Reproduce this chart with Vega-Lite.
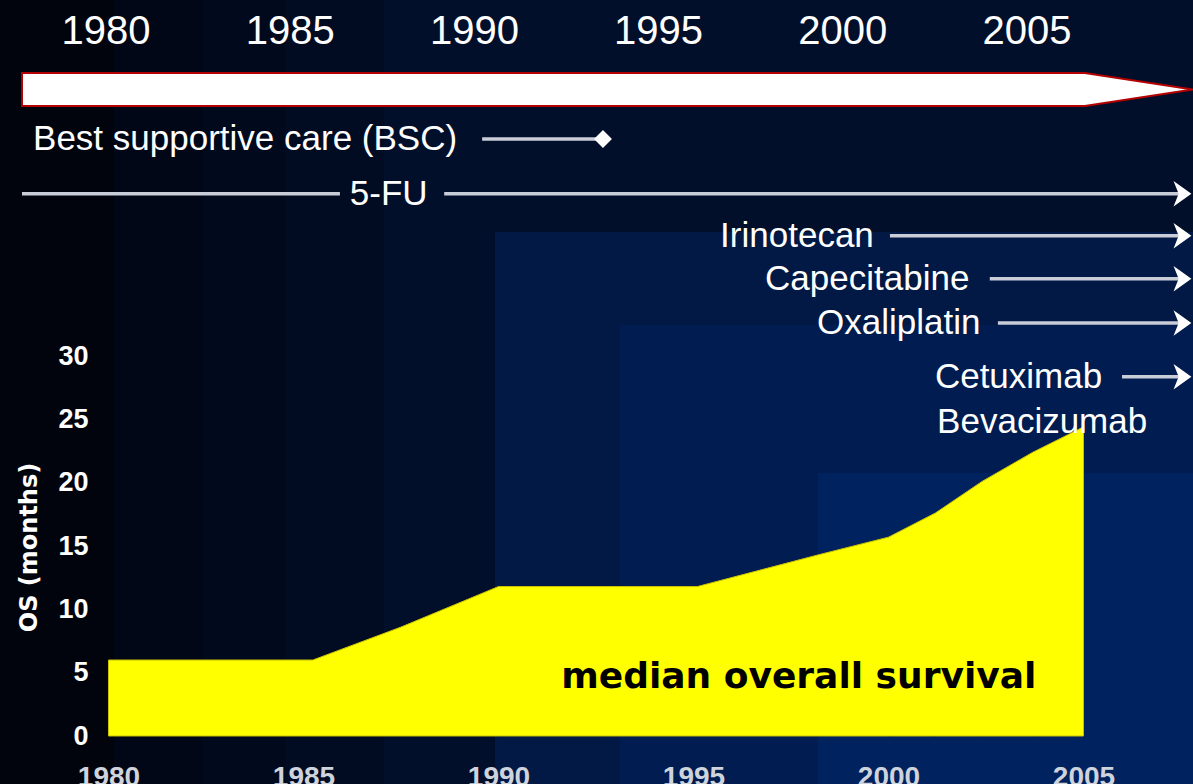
{
  "$schema": "https://vega.github.io/schema/vega-lite/v6.json",
  "width": 1193,
  "height": 784,
  "autosize": {"type": "none"},
  "padding": 0,
  "background": "#01040d",
  "config": {
    "view": {"stroke": null},
    "font": "Liberation Sans",
    "axis": {"grid": false, "domain": false, "ticks": false, "zindex": 2}
  },
  "datasets": {
    "bg": [
      {"x0": 1977.218, "x1": 2007.808, "y0": -3.789, "y1": 58.105, "shade": 1},
      {"x0": 1980.14, "x1": 2007.808, "y0": -3.789, "y1": 58.105, "shade": 2},
      {"x0": 1982.40, "x1": 2007.808, "y0": -3.789, "y1": 58.105, "shade": 3},
      {"x0": 1984.53, "x1": 2007.808, "y0": -3.789, "y1": 58.105, "shade": 4},
      {"x0": 1987.06, "x1": 2007.808, "y0": -3.789, "y1": 58.105, "shade": 5},
      {"x0": 1989.91, "x1": 2007.808, "y0": -3.789, "y1": 39.79, "shade": 6},
      {"x0": 1993.12, "x1": 2007.808, "y0": -3.789, "y1": 32.45, "shade": 7},
      {"x0": 1998.19, "x1": 2007.808, "y0": -3.789, "y1": 20.76, "shade": 8}
    ],
    "survival": [
      {"year": 1980, "os": 6.0},
      {"year": 1985.24, "os": 6.0},
      {"year": 1987.5, "os": 8.6},
      {"year": 1990, "os": 11.8},
      {"year": 1995.1, "os": 11.8},
      {"year": 1998.2, "os": 14.3},
      {"year": 2000, "os": 15.7},
      {"year": 2001.2, "os": 17.6},
      {"year": 2002.4, "os": 20.1},
      {"year": 2003.7, "os": 22.4},
      {"year": 2005, "os": 24.4}
    ],
    "note": [
      {"year": 1997.7, "os": 3.8, "label": "median overall survival"}
    ],
    "arrow": [
      {"t": 1977.72, "top": 0.953, "bot": 1.721},
      {"t": 2006.57, "top": 0.953, "bot": 1.721},
      {"t": 2009.50, "top": 1.337, "bot": 1.337}
    ],
    "years": [
      {"year": 1980}, {"year": 1985}, {"year": 1990},
      {"year": 1995}, {"year": 2000}, {"year": 2005}
    ],
    "lines": [
      {"drug": "BSC", "lane": 2.49, "from": 1990.21, "to": 1993.49, "head": "diamond"},
      {"drug": "5-FU", "lane": 3.76, "from": 1977.72, "to": 1986.35, "head": "none"},
      {"drug": "5-FU", "lane": 3.76, "from": 1989.18, "to": 2009.22, "head": "arrow"},
      {"drug": "Irinotecan", "lane": 4.74, "from": 2001.28, "to": 2009.22, "head": "arrow"},
      {"drug": "Capecitabine", "lane": 5.74, "from": 2003.99, "to": 2009.22, "head": "arrow"},
      {"drug": "Oxaliplatin", "lane": 6.77, "from": 2004.21, "to": 2009.22, "head": "arrow"},
      {"drug": "Cetuximab", "lane": 8.02, "from": 2007.58, "to": 2009.22, "head": "arrow"}
    ],
    "labels": [
      {"text": "Best supportive care (BSC)", "lane": 2.49, "at": 1978.02},
      {"text": "5-FU", "lane": 3.76, "at": 1986.62},
      {"text": "Irinotecan", "lane": 4.74, "at": 1996.67},
      {"text": "Capecitabine", "lane": 5.74, "at": 1997.89},
      {"text": "Oxaliplatin", "lane": 6.77, "at": 1999.30},
      {"text": "Cetuximab", "lane": 8.02, "at": 2002.50},
      {"text": "Bevacizumab", "lane": 9.07, "at": 2002.56}
    ]
  },
  "layer": [
    {
      "layer": [
        {
          "data": {"name": "bg"},
          "mark": {"type": "rect"},
          "encoding": {
            "x": {"field": "x0", "type": "quantitative", "scale": {"domain": [1977.218, 2007.808], "nice": false, "zero": false}},
            "x2": {"field": "x1"},
            "y": {"field": "y0", "type": "quantitative", "scale": {"domain": [-3.789, 58.105], "nice": false, "zero": false}},
            "y2": {"field": "y1"},
            "color": {
              "field": "shade", "type": "ordinal", "legend": null,
              "scale": {"domain": [1, 2, 3, 4, 5, 6, 7, 8],
                        "range": ["#01040d", "#010716", "#01091c", "#010c23", "#010f2b", "#011944", "#001c50", "#00225e"]}
            }
          }
        },
        {
          "data": {"name": "survival"},
          "mark": {"type": "area", "color": "#ffff00", "stroke": "#c8c000", "strokeWidth": 1},
          "encoding": {
            "x": {
              "field": "year", "type": "quantitative",
              "scale": {"domain": [1977.218, 2007.808], "nice": false, "zero": false},
              "axis": {
                "values": [1980, 1985, 1990, 1995, 2000, 2005], "format": "d", "title": null,
                "orient": "bottom", "offset": -24, "labelPadding": 3,
                "labelFont": "Liberation Sans", "labelFontSize": 28, "labelFontWeight": "bold",
                "labelColor": "#cfd3dc", "labelBaseline": "top", "labelFlush": false, "labelOverlap": false,
                "domain": false, "ticks": false, "grid": false, "zindex": 2
              }
            },
            "y": {
              "field": "os", "type": "quantitative",
              "scale": {"domain": [-3.789, 58.105], "nice": false, "zero": false},
              "axis": {
                "values": [0, 5, 10, 15, 20, 25, 30], "title": "OS (months)",
                "orient": "left", "offset": -92, "labelPadding": 4,
                "labelFont": "Liberation Sans", "labelFontSize": 27, "labelFontWeight": "bold",
                "labelColor": "#ffffff", "labelFlush": false, "labelOverlap": false,
                "titleFont": "DejaVu Sans", "titleFontSize": 24, "titleFontWeight": "bold", "titleColor": "#ffffff",
                "titleAngle": 270, "titleX": -63, "titleY": 547, "titleAlign": "center", "titleBaseline": "middle",
                "domain": false, "ticks": false, "grid": false, "zindex": 2
              }
            },
            "y2": {"datum": 0}
          }
        },
        {
          "data": {"name": "note"},
          "mark": {"type": "text", "font": "DejaVu Sans", "fontWeight": "bold", "fontSize": 36, "color": "#000000", "align": "center", "baseline": "alphabetic"},
          "encoding": {
            "x": {"field": "year", "type": "quantitative", "scale": {"domain": [1977.218, 2007.808], "nice": false, "zero": false}},
            "y": {"field": "os", "type": "quantitative", "scale": {"domain": [-3.789, 58.105], "nice": false, "zero": false}},
            "text": {"field": "label"}
          }
        }
      ]
    },
    {
      "layer": [
        {
          "data": {"name": "arrow"},
          "mark": {"type": "area", "color": "#ffffff", "stroke": "#b40000", "strokeWidth": 2},
          "encoding": {
            "x": {"field": "t", "type": "quantitative", "scale": {"domain": [1977.123, 2009.506], "nice": false, "zero": false}, "axis": null},
            "y": {"field": "top", "type": "quantitative", "scale": {"domain": [-0.744, 17.488], "nice": false, "zero": false, "reverse": true}, "axis": null},
            "y2": {"field": "bot"}
          }
        },
        {
          "data": {"name": "years"},
          "mark": {"type": "text", "fontSize": 40, "color": "#ffffff", "align": "center", "baseline": "middle"},
          "encoding": {
            "x": {"field": "year", "type": "quantitative", "scale": {"domain": [1977.123, 2009.506], "nice": false, "zero": false}, "axis": null},
            "y": {"datum": 0, "type": "quantitative", "scale": {"domain": [-0.744, 17.488], "nice": false, "zero": false, "reverse": true}, "axis": null},
            "text": {"field": "year", "type": "quantitative", "format": "d"}
          }
        },
        {
          "data": {"name": "lines"},
          "mark": {"type": "rule", "color": "#c9cdd8", "strokeWidth": 3.5},
          "encoding": {
            "x": {"field": "from", "type": "quantitative", "scale": {"domain": [1977.123, 2009.506], "nice": false, "zero": false}, "axis": null},
            "x2": {"field": "to"},
            "y": {"field": "lane", "type": "quantitative", "scale": {"domain": [-0.744, 17.488], "nice": false, "zero": false, "reverse": true}, "axis": null}
          }
        },
        {
          "data": {"name": "lines"},
          "transform": [{"filter": "datum.head === 'arrow'"}],
          "mark": {"type": "point", "filled": true, "color": "#ffffff", "opacity": 1, "size": 650, "shape": "M-0.7,-1L0.7,0L-0.7,1L-0.3,0Z"},
          "encoding": {
            "x": {"field": "to", "type": "quantitative", "scale": {"domain": [1977.123, 2009.506], "nice": false, "zero": false}, "axis": null},
            "y": {"field": "lane", "type": "quantitative", "scale": {"domain": [-0.744, 17.488], "nice": false, "zero": false, "reverse": true}, "axis": null}
          }
        },
        {
          "data": {"name": "lines"},
          "transform": [{"filter": "datum.head === 'diamond'"}],
          "mark": {"type": "point", "filled": true, "color": "#ffffff", "opacity": 1, "size": 320, "shape": "diamond"},
          "encoding": {
            "x": {"field": "to", "type": "quantitative", "scale": {"domain": [1977.123, 2009.506], "nice": false, "zero": false}, "axis": null},
            "y": {"field": "lane", "type": "quantitative", "scale": {"domain": [-0.744, 17.488], "nice": false, "zero": false, "reverse": true}, "axis": null}
          }
        },
        {
          "data": {"name": "labels"},
          "mark": {"type": "text", "fontSize": 35, "color": "#ffffff", "align": "left", "baseline": "middle"},
          "encoding": {
            "x": {"field": "at", "type": "quantitative", "scale": {"domain": [1977.123, 2009.506], "nice": false, "zero": false}, "axis": null},
            "y": {"field": "lane", "type": "quantitative", "scale": {"domain": [-0.744, 17.488], "nice": false, "zero": false, "reverse": true}, "axis": null},
            "text": {"field": "text"}
          }
        }
      ]
    }
  ],
  "resolve": {"scale": {"x": "independent", "y": "independent"}}
}
